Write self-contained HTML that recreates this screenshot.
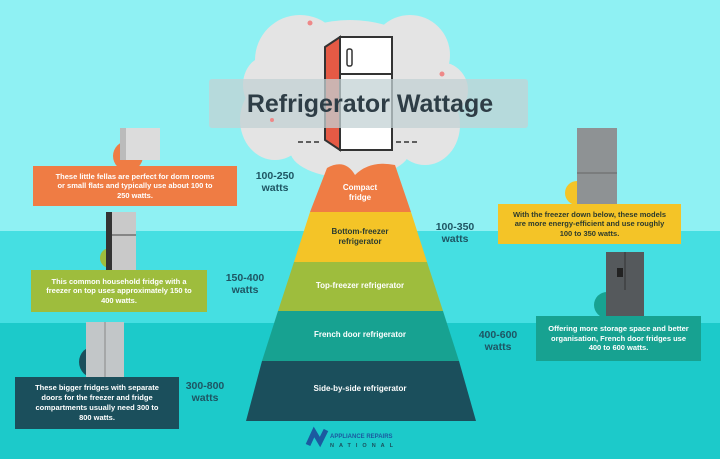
<!DOCTYPE html>
<html><head><meta charset="utf-8"><style>
html,body{margin:0;padding:0}
body{width:720px;height:459px;position:relative;overflow:hidden;font-family:"Liberation Sans",sans-serif;background:#1ccaca}
.band{position:absolute;left:0;width:720px}
.box{position:absolute;color:#fff;font-weight:bold;font-size:7.5px;line-height:9.5px;text-align:center;display:flex;align-items:center;justify-content:center;box-sizing:border-box;padding:0 18px}
.w{position:absolute;color:#1e5563;font-weight:bold;font-size:10.5px;line-height:12px;text-align:center}
.pl{position:absolute;color:#fff;font-weight:bold;font-size:8px;text-align:center;width:200px;left:260px}
</style></head><body>
<div class="band" style="top:0;height:231px;background:#8ff1f3"></div>
<div class="band" style="top:231px;height:92px;background:#45dfe2"></div>
<svg width="720" height="459" style="position:absolute;left:0;top:0">
 <g fill="#e4e4e4">
  <ellipse cx="350" cy="90" rx="95" ry="70"/>
  <ellipse cx="300" cy="60" rx="45" ry="45"/>
  <ellipse cx="410" cy="55" rx="40" ry="40"/>
  <ellipse cx="275" cy="120" rx="35" ry="40"/>
  <ellipse cx="425" cy="125" rx="35" ry="40"/>
  <ellipse cx="350" cy="150" rx="60" ry="28"/>
  <ellipse cx="440" cy="90" rx="28" ry="28"/>
  <ellipse cx="265" cy="85" rx="22" ry="28"/>
 </g>
 <path d="M327,168 Q345,158 355,175 Q370,160 395,165 L411,212 L310,212 Z" fill="#ef7c44"/>
 <polygon points="310,212 411,212 427,262 294,262" fill="#f4c427"/>
 <polygon points="294,262 427,262 443,311 278,311" fill="#9ebd3d"/>
 <polygon points="278,311 443,311 459,361 262,361" fill="#17a291"/>
 <polygon points="262,361 459,361 476,421 246,421" fill="#1b4f5c"/>
 <polygon points="325,47 340,37 340,150 325,140" fill="#e55a45" stroke="#333" stroke-width="2"/>
 <rect x="340" y="37" width="52" height="113" fill="#fff" stroke="#333" stroke-width="2"/>
 <line x1="340" y1="74" x2="392" y2="74" stroke="#333" stroke-width="2"/>
 <rect x="347" y="49" width="5" height="17" rx="2" fill="none" stroke="#333" stroke-width="1.5"/>
 <line x1="298" y1="142" x2="322" y2="142" stroke="#333" stroke-width="1.5" stroke-dasharray="5,3"/>
 <line x1="396" y1="142" x2="420" y2="142" stroke="#333" stroke-width="1.5" stroke-dasharray="5,3"/>
 <rect x="209" y="79" width="319" height="49" rx="3" fill="#c3d1d4" fill-opacity="0.75"/>
 <text x="370" y="112" text-anchor="middle" font-family="Liberation Sans" font-weight="bold" font-size="25" fill="#2e3d46">Refrigerator Wattage</text>
 <g fill="#e88"><circle cx="310" cy="23" r="2.5"/><circle cx="442" cy="74" r="2.5"/><circle cx="272" cy="120" r="2"/></g>
 <circle cx="128" cy="156" r="15" fill="#ef7c44"/>
 <rect x="120" y="128" width="40" height="32" fill="#dcdcdc"/><rect x="120" y="128" width="6" height="32" fill="#bbb"/>
 <circle cx="110" cy="258" r="10" fill="#9ebd3d"/>
 <rect x="106" y="212" width="30" height="62" fill="#c9c9c9"/><rect x="106" y="212" width="6" height="62" fill="#333"/><line x1="112" y1="235" x2="136" y2="235" stroke="#444"/>
 <circle cx="95" cy="362" r="16" fill="#1b4f5c"/>
 <rect x="86" y="322" width="38" height="56" fill="#c2c6c8"/><line x1="105" y1="322" x2="105" y2="378" stroke="#888"/>
 <circle cx="577" cy="193" r="12" fill="#f4c427"/>
 <rect x="577" y="128" width="40" height="80" fill="#8e9294"/><line x1="577" y1="173" x2="617" y2="173" stroke="#666"/>
 <circle cx="607" cy="305" r="13" fill="#17a291"/>
 <rect x="606" y="252" width="38" height="66" fill="#55595c"/><line x1="625" y1="252" x2="625" y2="290" stroke="#333"/><rect x="617" y="268" width="6" height="9" fill="#222"/>
 <path d="M308,445 L314,432 L320,442 L326,430" stroke="#1b5aa0" stroke-width="5" fill="none"/>
 <text x="330" y="438" font-size="6" font-weight="bold" fill="#1b5aa0" font-family="Liberation Sans">APPLIANCE REPAIRS</text>
 <text x="330" y="447" font-size="5.5" font-weight="bold" fill="#1b4f5c" letter-spacing="5" font-family="Liberation Sans">NATIONAL</text>
</svg>
<div class="pl" style="top:183px;line-height:10px">Compact<br>fridge</div>
<div class="pl" style="top:227px;line-height:10px;color:#2a3b30;">Bottom-freezer<br>refrigerator</div>
<div class="pl" style="top:281px">Top-freezer refrigerator</div>
<div class="pl" style="top:330px">French door refrigerator</div>
<div class="pl" style="top:384px">Side-by-side refrigerator</div>
<div class="box" style="left:33px;top:166px;width:204px;height:40px;background:#ef7c44">These little fellas are perfect for dorm rooms or small flats and typically use about 100 to 250 watts.</div>
<div class="box" style="left:31px;top:270px;width:176px;height:42px;background:#9ebd3d;padding:0 10px">This common household fridge with a freezer on top uses approximately 150 to 400 watts.</div>
<div class="box" style="left:15px;top:377px;width:164px;height:52px;background:#1b4f5c;font-size:7.5px;line-height:10px;padding:0 14px">These bigger fridges with separate doors for the freezer and fridge compartments usually need 300 to 800 watts.</div>
<div class="box" style="left:498px;top:204px;width:183px;height:40px;background:#f4c427;color:#2c3a2c;padding:0 10px">With the freezer down below, these models are more energy-efficient and use roughly 100 to 350 watts.</div>
<div class="box" style="left:536px;top:316px;width:165px;height:45px;background:#17a291;padding:0 12px">Offering more storage space and better organisation, French door fridges use 400 to 600 watts.</div>
<div class="w" style="left:250px;top:170px;width:50px">100-250<br>watts</div>
<div class="w" style="left:220px;top:272px;width:50px">150-400<br>watts</div>
<div class="w" style="left:180px;top:380px;width:50px">300-800<br>watts</div>
<div class="w" style="left:430px;top:221px;width:50px">100-350<br>watts</div>
<div class="w" style="left:473px;top:329px;width:50px">400-600<br>watts</div>
</body></html>
